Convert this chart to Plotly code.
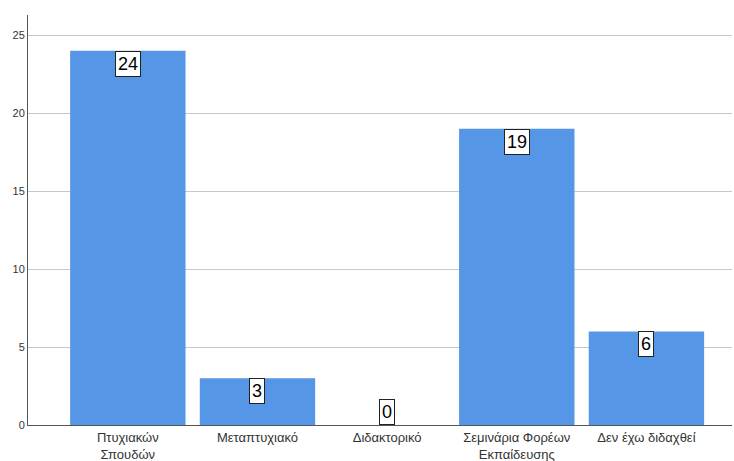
import plotly.graph_objects as go

categories = ["Πτυχιακών<br>Σπουδών", "Μεταπτυχιακό", "Διδακτορικό",
              "Σεμινάρια Φορέων<br>Εκπαίδευσης", "Δεν έχω διδαχθεί"]
counts = [24, 3, 0, 19, 6]
y_ticks = [0, 5, 10, 15, 20, 25]

bar_color = "#5596e6"

fig = go.Figure(go.Bar(
    x=list(range(len(categories))),
    y=counts,
    marker=dict(color=bar_color, line=dict(width=0)),
    width=0.89,
    hoverinfo="skip",
))

# value boxes: hang just under the bar top, sit on the axis for zero
for i, v in enumerate(counts):
    fig.add_annotation(
        x=i, y=v, text=str(v), showarrow=False,
        yanchor="top" if v > 0 else "bottom",
        xanchor="center",
        font=dict(family="Liberation Sans, Arial", size=18, color="black"),
        bgcolor="white", bordercolor="#222222", borderwidth=1, borderpad=2,
    )

fig.update_layout(
    width=734, height=461,
    margin=dict(l=28, r=2, t=15, b=36),
    paper_bgcolor="white", plot_bgcolor="white",
    showlegend=False,
    font=dict(family="Liberation Sans, Arial", size=13, color="#333333"),
    xaxis=dict(
        range=[-0.77, 4.66],
        tickmode="array",
        tickvals=list(range(len(categories))),
        ticktext=categories,
        showgrid=False, zeroline=False,
        showline=True, linecolor="#555555", linewidth=1,
        ticks="", tickfont=dict(size=13, color="#333333"),
        automargin=False,
    ),
    yaxis=dict(
        range=[0, 26.3],
        tickmode="array", tickvals=y_ticks,
        showgrid=True, gridcolor="#c8c8c8", gridwidth=1,
        zeroline=False,
        showline=True, linecolor="#555555", linewidth=1,
        ticks="", tickfont=dict(size=11, color="#333333"),
        automargin=False,
    ),
)

fig.write_html("out.html")
